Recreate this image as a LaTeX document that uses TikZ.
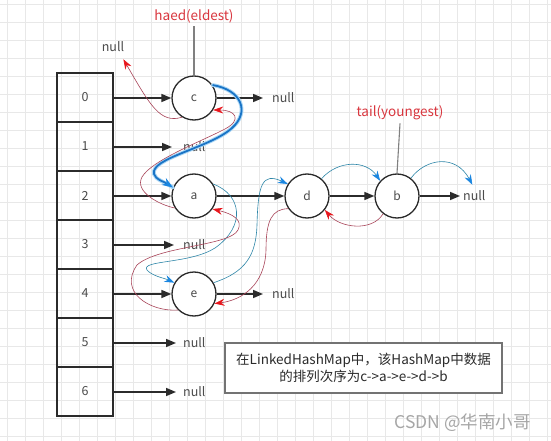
\documentclass[tikz,border=0pt]{standalone}
\usepackage{fontspec}
\setmainfont{Noto Sans CJK SC}
\usetikzlibrary{arrows.meta,calc}
\definecolor{gridc}{HTML}{E8E8E8}
\definecolor{blk}{HTML}{2B2B2B}
\definecolor{redl}{HTML}{A84458}
\definecolor{redh}{HTML}{E8161C}
\definecolor{bluel}{HTML}{2E86A8}
\definecolor{blueh}{HTML}{1A86E0}
\definecolor{bluet}{HTML}{1A74C6}
\definecolor{blueg}{HTML}{A9D6F5}
\definecolor{lblred}{HTML}{D9363E}
\tikzset{
  cell/.style={draw=blk,line width=1.3pt,minimum width=56pt,minimum height=49pt,inner sep=0pt,font=\fontsize{12.5}{14}\selectfont,text=blk!85},
  ent/.style={circle,draw=blk,line width=1.3pt,minimum size=44pt,inner sep=0pt,fill=white,font=\fontsize{12}{14}\selectfont,text=blk!85},
  nul/.style={inner sep=1pt,anchor=west,font=\fontsize{12.5}{14}\selectfont,text=blk!85},
  barr/.style={draw=blk,line width=1.5pt,-{Triangle[length=10pt,width=8pt]}},
  rarr/.style={draw=redl,line width=0.6pt,-{Stealth[length=10pt,width=7pt,color=redh]}},
  barrb/.style={draw=bluel,line width=0.6pt,-{Stealth[length=10pt,width=7pt,color=blueh]}},
  lbl/.style={text=lblred,font=\fontsize{13.5}{15}\selectfont,inner sep=3pt},
  ptr/.style={draw=gray,line width=1.1pt}
}
\begin{document}
\begin{tikzpicture}[x=1pt,y=-1pt]
\useasboundingbox (0,0) rectangle (551,441);
\fill[white] (0,0) rectangle (551,441);
\foreach \g in {7,25,...,551} \draw[gridc,line width=0.5pt] (\g,0) -- (\g,441);
\foreach \g in {4,22,...,441} \draw[gridc,line width=0.5pt] (0,\g) -- (551,\g);

% table
\foreach \i in {0,...,6} \node[cell] (r\i) at (85,97.5+49*\i) {\i};

% entries
\node[ent] (c) at (194,98) {c};
\node[ent] (a) at (194,196) {a};
\node[ent] (e) at (194,294) {e};
\node[ent] (d) at (307,196) {d};
\node[ent] (b) at (397,196) {b};

% nulls
\node[nul,anchor=center] (n0) at (113,47) {null};
\node[nul] (n1) at (182,147) {null};
\node[nul] (n3) at (182,245) {null};
\node[nul] (n5) at (182,343) {null};
\node[nul] (n6) at (182,392) {null};
\node[nul] (nc) at (271,98) {null};
\node[nul] (ne) at (271,294) {null};
\node[nul] (nb) at (462,196) {null};

% labels
\node[lbl] (hl) at (194,16) {haed(eldest)};
\node[lbl] (tl) at (400,113) {tail(youngest)};
\draw[ptr] (c.north) -- (hl.south);
\draw[ptr] (b.north) -- (tl.south);

% black arrows
\draw[barr] (r0.east |- c) -- (c.west);
\draw[barr] (r1.east |- n1) -- ([xshift=-10pt]n1.west);
\draw[barr] (r2.east |- a) -- (a.west);
\draw[barr] (r3.east |- n3) -- ([xshift=-8pt]n3.west);
\draw[barr] (r4.east |- e) -- (e.west);
\draw[barr] (r5.east |- n5) -- ([xshift=-6pt]n5.west);
\draw[barr] (r6.east |- n6) -- ([xshift=-6pt]n6.west);
\draw[barr] (c.east) -- ([xshift=-8pt]nc.west);
\draw[barr] (e.east) -- ([xshift=-8pt]ne.west);
\draw[barr] (a.east) -- (d.west);
\draw[barr] (d.east) -- (b.west);
\draw[barr] (b.east) -- ([xshift=-2pt]nb.west);

% thick blue c -> a
\draw[blueg,line width=3.8pt,line cap=round]
  (c.35) .. controls (242,90) and (250,112) .. (232,128)
  .. controls (210,148) and (150,158) .. (154,174)
  .. controls (156,180) and (163,181) .. (a.158);
\draw[bluet,line width=1.8pt,-{Stealth[length=11pt,width=8pt,color=blueh]}]
  (c.35) .. controls (242,90) and (250,112) .. (232,128)
  .. controls (210,148) and (150,158) .. (154,174)
  .. controls (156,180) and (163,181) .. (a.158);

% red a -> c
\draw[rarr] (a.212) .. controls (160,205) and (134,192) .. (142,177)
  .. controls (152,160) and (200,142) .. (225,129)
  .. controls (242,120) and (236,110) .. (c.-32);
% red c -> null
\draw[rarr] (c.238) .. controls (160,124) and (150,105) .. ([xshift=-2pt,yshift=-6pt]n0.south east);

% blue a -> e
\draw[barrb] (a.32) .. controls (242,195) and (246,226) .. (215,248)
  .. controls (190,264) and (140,260) .. (147,270)
  .. controls (152,276) and (164,278) .. (e.150);
% red e -> a
\draw[rarr] (e.225) .. controls (150,312) and (118,292) .. (137,265)
  .. controls (158,246) and (230,246) .. (238,230)
  .. controls (243,220) and (233,214) .. (a.-35);
% blue e -> d
\draw[barrb] (e.30) .. controls (246,272) and (256,255) .. (257,225)
  .. controls (258,185) and (262,172) .. (d.148);
% red d -> e
\draw[rarr] (d.214) .. controls (272,209) and (266,220) .. (266,250)
  .. controls (265,285) and (242,300) .. (e.-25);
% blue d -> b
\draw[barrb] (d.50) .. controls (338,160) and (366,160) .. (b.138);
% red b -> d
\draw[rarr] (b.-128) .. controls (372,232) and (340,228) .. (d.-38);
% blue b -> null
\draw[barrb] (b.52) .. controls (426,158) and (456,154) .. ([xshift=-2pt,yshift=5pt]nb.north);

% note
\node[draw=gray!90!black,line width=1.2pt,fill=white,minimum width=277pt,minimum height=50pt,align=center,inner sep=2pt,font=\fontsize{13.5}{16.5}\selectfont,text=blk] (note) at (363.5,368)
  {在LinkedHashMap中，该HashMap中数据\\的排列次序为c->a->e->d->b};

% watermark
\node[text=gray!70,font=\fontsize{17.5}{19}\selectfont,inner sep=0pt] (wm) at (462.5,423) {CSDN @华南小哥};
\end{tikzpicture}
\end{document}
